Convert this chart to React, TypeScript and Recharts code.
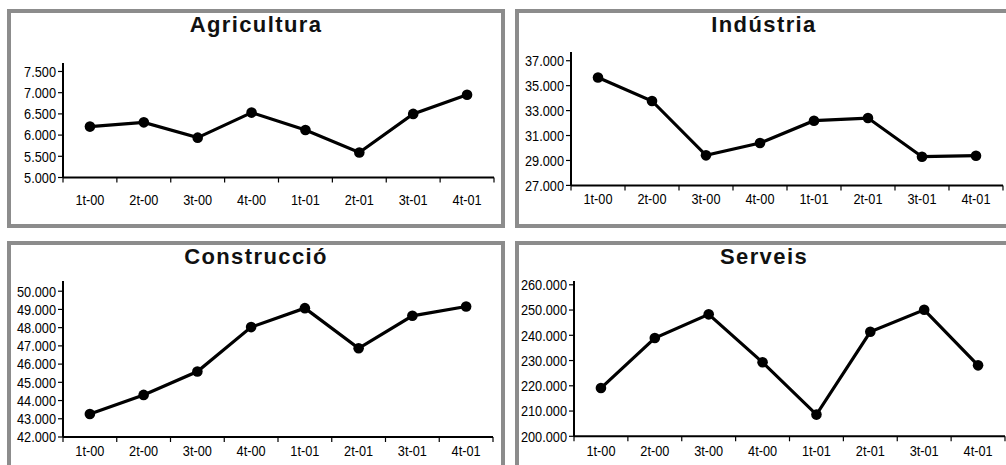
import React from "react";
import { LineChart, Line, XAxis, YAxis } from "recharts";

// quarters on the x axis
const quarters = ["1t-00", "2t-00", "3t-00", "4t-00", "1t-01", "2t-01", "3t-01", "4t-01"];

// series values
const agricultura = [6200, 6300, 5940, 6530, 6120, 5590, 6500, 6950];
const industria = [35660, 33770, 29410, 30400, 32190, 32400, 29300, 29380];
const construccio = [43260, 44310, 45590, 48030, 49070, 46870, 48650, 49160];
const serveis = [219100, 238900, 248300, 229300, 208600, 241400, 250100, 228100];

// y tick labels
const agriTicks = [5000, 5500, 6000, 6500, 7000, 7500];
const indTicks = [27000, 29000, 31000, 33000, 35000, 37000];
const consTicks = [42000, 43000, 44000, 45000, 46000, 47000, 48000, 49000, 50000];
const servTicks = [200000, 210000, 220000, 230000, 240000, 250000, 260000];

const SANS = "'Liberation Sans', Arial, sans-serif";
const BORDER = "#8c8c8c";
const SQUEEZE = 0.85; // Arial Narrow look

const fmt = (v: number) => String(v).replace(/\B(?=(\d{3})+(?!\d))/g, ".");

// x ticks: integers are category boundaries (tick marks), halves are centres (labels)
const xTicks = Array.from({ length: quarters.length * 2 + 1 }, (_, i) => i / 2);

const makeRows = (values: number[]) =>
  quarters.map((q, i) => ({ q, pos: i + 0.5, value: values[i] }));

const NarrowText = ({ x, y, anchor, children }: any) => (
  <text
    transform={`translate(${x},${y}) scale(${SQUEEZE},1)`}
    x={0}
    y={0}
    textAnchor={anchor}
    dominantBaseline="central"
    fontFamily={SANS}
    fontSize={15}
    fill="#000"
  >
    {children}
  </text>
);

const XTick = ({ x, y, payload, labelDy }: any) => {
  const v = payload.value as number;
  if (Number.isInteger(v)) {
    return <line x1={x} y1={y} x2={x} y2={y + 5} stroke="#000" strokeWidth={1.2} />;
  }
  return (
    <NarrowText x={x} y={y + labelDy} anchor="middle">
      {quarters[Math.floor(v)]}
    </NarrowText>
  );
};

const YTick = ({ x, y, payload }: any) => (
  <NarrowText x={x} y={y} anchor="end">
    {fmt(payload.value)}
  </NarrowText>
);

interface PanelProps {
  title: string;
  values: number[];
  ticks: number[];
  domainMax: number;
  box: { left: number; top: number; width: number; height: number };
  plot: { left: number; right: number; top: number; bottom: number };
  titleTop: number;
  labelDy: number;
}

function Panel({ title, values, ticks, domainMax, box, plot, titleTop, labelDy }: PanelProps) {
  const yw = 62;
  const chartLeft = plot.left - yw;
  const chartTop = plot.top - 6;
  const width = plot.right - chartLeft + 6;
  const height = plot.bottom - chartTop + 40;
  const data = makeRows(values);

  return (
    <>
      <div
        style={{
          position: "absolute",
          left: box.left,
          top: box.top,
          width: box.width,
          height: box.height,
          boxSizing: "border-box",
          border: `4px solid ${BORDER}`,
          background: "#fff",
        }}
      />
      <div
        style={{
          position: "absolute",
          left: box.left,
          top: titleTop,
          width: box.width,
          textAlign: "center",
          fontFamily: SANS,
          fontWeight: "bold",
          fontSize: 22,
          lineHeight: "22px",
          letterSpacing: 1.4,
          color: "#111",
        }}
      >
        {title}
      </div>
      <div style={{ position: "absolute", left: chartLeft, top: chartTop }}>
        <LineChart
          width={width}
          height={height}
          data={data}
          margin={{ top: 6, right: 6, bottom: 0, left: 0 }}
        >
          <XAxis
            dataKey="pos"
            type="number"
            domain={[0, quarters.length]}
            ticks={xTicks}
            interval={0}
            height={40}
            tickSize={0}
            tickMargin={0}
            tickLine={false}
            axisLine={{ stroke: "#000", strokeWidth: 2 }}
            tick={<XTick labelDy={labelDy} />}
          />
          <YAxis
            type="number"
            width={yw}
            domain={[ticks[0], domainMax]}
            ticks={ticks}
            interval={0}
            allowDataOverflow
            tickSize={5}
            tickMargin={2}
            axisLine={{ stroke: "#000", strokeWidth: 2 }}
            tickLine={{ stroke: "#000", strokeWidth: 1.2 }}
            tick={<YTick />}
          />
          <Line
            type="linear"
            dataKey="value"
            stroke="#000"
            strokeWidth={3.2}
            dot={{ r: 5.3, fill: "#000", stroke: "#000", strokeWidth: 0 }}
            activeDot={false}
            isAnimationActive={false}
          />
        </LineChart>
      </div>
    </>
  );
}

export default function App() {
  return (
    <div
      style={{
        position: "absolute",
        left: 0,
        top: 0,
        width: 1006,
        height: 465,
        overflow: "hidden",
        background: "#fff",
      }}
    >
      <Panel
        title="Agricultura"
        values={agricultura}
        ticks={agriTicks}
        domainMax={7700}
        box={{ left: 7, top: 9, width: 498, height: 219 }}
        plot={{ left: 63, right: 494, top: 62.5, bottom: 177 }}
        titleTop={13.5}
        labelDy={22}
      />
      <Panel
        title="Indústria"
        values={industria}
        ticks={indTicks}
        domainMax={37700}
        box={{ left: 515, top: 9, width: 498, height: 219 }}
        plot={{ left: 571, right: 1003, top: 52.3, bottom: 185.7 }}
        titleTop={13.5}
        labelDy={13.5}
      />
      <Panel
        title="Construcció"
        values={construccio}
        ticks={consTicks}
        domainMax={50560}
        box={{ left: 7, top: 241, width: 498, height: 232 }}
        plot={{ left: 63, right: 493, top: 281, bottom: 437 }}
        titleTop={245.5}
        labelDy={13.5}
      />
      <Panel
        title="Serveis"
        values={serveis}
        ticks={servTicks}
        domainMax={261500}
        box={{ left: 515, top: 241, width: 498, height: 232 }}
        plot={{ left: 574, right: 1005, top: 281, bottom: 436.3 }}
        titleTop={245.5}
        labelDy={14}
      />
    </div>
  );
}
